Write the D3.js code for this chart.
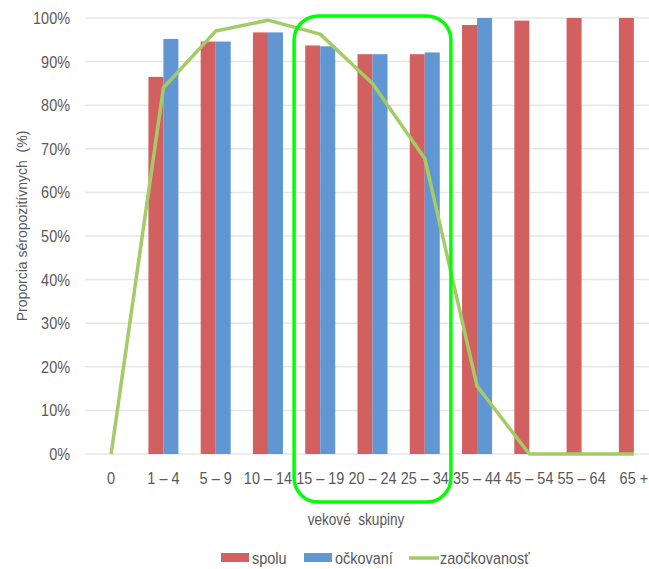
<!DOCTYPE html>
<html>
<head>
<meta charset="utf-8">
<script src="https://cdn.jsdelivr.net/npm/d3@7"></script>
<style>
  html, body { margin: 0; padding: 0; background: #fff; }
  svg { display: block; }
  .lbl { font-family: "Liberation Sans", Arial, sans-serif; fill: #595959; }
  .ttl { font-family: "Liberation Sans", Arial, sans-serif; fill: #595959; }
</style>
</head>
<body>
<script>
// Age groups and seropositivity shares (%)
const categories = ["0", "1 – 4", "5 – 9", "10 – 14", "15 – 19", "20 – 24", "25 – 34", "35 – 44", "45 – 54", "55 – 64", "65 +"];
const spolu      = [null, 86.5, 94.6, 96.7, 93.7, 91.7, 91.7, 98.4, 99.4, 100, 100];
const ockovani   = [null, 95.2, 94.6, 96.7, 93.5, 91.7, 92.1, 100, null, null, null];
const zaockovanost = [0, 84.0, 97.0, 99.5, 96.3, 85.0, 67.8, 15.6, 0, 0, 0];
const yTicks = [0, 10, 20, 30, 40, 50, 60, 70, 80, 90, 100];
const highlighted = ["15 – 19", "25 – 34"];

const W = 649, H = 569;
const plot = { left: 85, right: 660, top: 18, bottom: 454 };
const squeeze = 0.85; // condensed look for labels

const svg = d3.select("body").append("svg").attr("width", W).attr("height", H);

// horizontally condense a text around its own x position
function narrow(sel) {
  sel.attr("transform", function () {
    const x0 = +this.getAttribute("x") || 0;
    return `translate(${x0},0) scale(${squeeze},1) translate(${-x0},0)`;
  });
}

const x = d3.scaleBand().domain(categories).range([plot.left, plot.right]).paddingInner(0).paddingOuter(0);
const y = d3.scaleLinear().domain([0, 100]).range([plot.bottom, plot.top]);
const barW = 15;

// gridlines
svg.append("g").selectAll("line").data(yTicks).join("line")
  .attr("x1", plot.left).attr("x2", plot.right)
  .attr("y1", d => y(d)).attr("y2", d => y(d))
  .attr("stroke", "#e6e6e6").attr("stroke-width", 1.5);

// y axis labels
const yAxis = d3.axisLeft(y).tickValues(yTicks).tickFormat(d => d + "%").tickSize(0).tickPadding(15);
const gy = svg.append("g").attr("transform", `translate(${plot.left},0)`).call(yAxis);
gy.select(".domain").remove();
gy.selectAll("text").attr("class", "lbl").attr("font-size", 17).attr("fill", "#595959").call(narrow);

// x axis labels
const xAxis = d3.axisBottom(x).tickSize(0).tickPadding(18);
const gx = svg.append("g").attr("transform", `translate(0,${plot.bottom})`).call(xAxis);
gx.select(".domain").remove();
gx.selectAll("text").attr("class", "lbl").attr("font-size", 17).attr("fill", "#595959").call(narrow);

// bars
const cx = c => x(c) + x.bandwidth() / 2;
svg.append("g").selectAll("rect").data(categories.map((c, i) => ({ c, v: spolu[i] })).filter(d => d.v != null)).join("rect")
  .attr("x", d => cx(d.c) - barW).attr("width", barW)
  .attr("y", d => y(d.v)).attr("height", d => y(0) - y(d.v))
  .attr("fill", "#d36060");
svg.append("g").selectAll("rect").data(categories.map((c, i) => ({ c, v: ockovani[i] })).filter(d => d.v != null)).join("rect")
  .attr("x", d => cx(d.c)).attr("width", barW)
  .attr("y", d => y(d.v)).attr("height", d => y(0) - y(d.v))
  .attr("fill", "#6096d2");

// coverage line
const line = d3.line().x((d, i) => cx(categories[i])).y(d => y(d));
svg.append("path").datum(zaockovanost).attr("d", line)
  .attr("fill", "none").attr("stroke", "#a4cc66").attr("stroke-width", 3.5).attr("stroke-linejoin", "round");

// highlight frame around the young-adult groups
const fx0 = x(highlighted[0]), fx1 = x(highlighted[1]) + x.bandwidth();
svg.append("rect")
  .attr("x", fx0).attr("y", y(100) - 2)
  .attr("width", fx1 - fx0).attr("height", 502 - (y(100) - 2))
  .attr("rx", 24).attr("ry", 24)
  .attr("fill", "none").attr("stroke", "#00ff00").attr("stroke-width", 3.5);

// axis titles
svg.append("text").attr("class", "ttl").attr("font-size", 14)
  .attr("transform", "translate(27,226) rotate(-90)").attr("text-anchor", "middle")
  .attr("xml:space", "preserve")
  .text("Proporcia séropozitívnych  (%)");
svg.append("text").attr("class", "lbl").attr("font-size", 16)
  .attr("x", 356).attr("y", 525).attr("text-anchor", "middle")
  .attr("xml:space", "preserve")
  .text("vekové  skupiny").call(narrow);

// legend
const legend = [
  { name: "spolu", type: "rect", color: "#d36060", x: 221 },
  { name: "očkovaní", type: "rect", color: "#6096d2", x: 304 },
  { name: "zaočkovanosť", type: "line", color: "#a4cc66", x: 409 }
];
const lg = svg.append("g");
legend.forEach(d => {
  if (d.type === "rect") {
    lg.append("rect").attr("x", d.x).attr("y", 553).attr("width", 28).attr("height", 9).attr("fill", d.color);
  } else {
    lg.append("line").attr("x1", d.x).attr("x2", d.x + 30).attr("y1", 558).attr("y2", 558)
      .attr("stroke", d.color).attr("stroke-width", 3.5);
  }
  lg.append("text").attr("class", "lbl").attr("font-size", 17)
    .attr("x", d.x + 31).attr("y", 564).text(d.name).call(narrow);
});
</script>
</body>
</html>
